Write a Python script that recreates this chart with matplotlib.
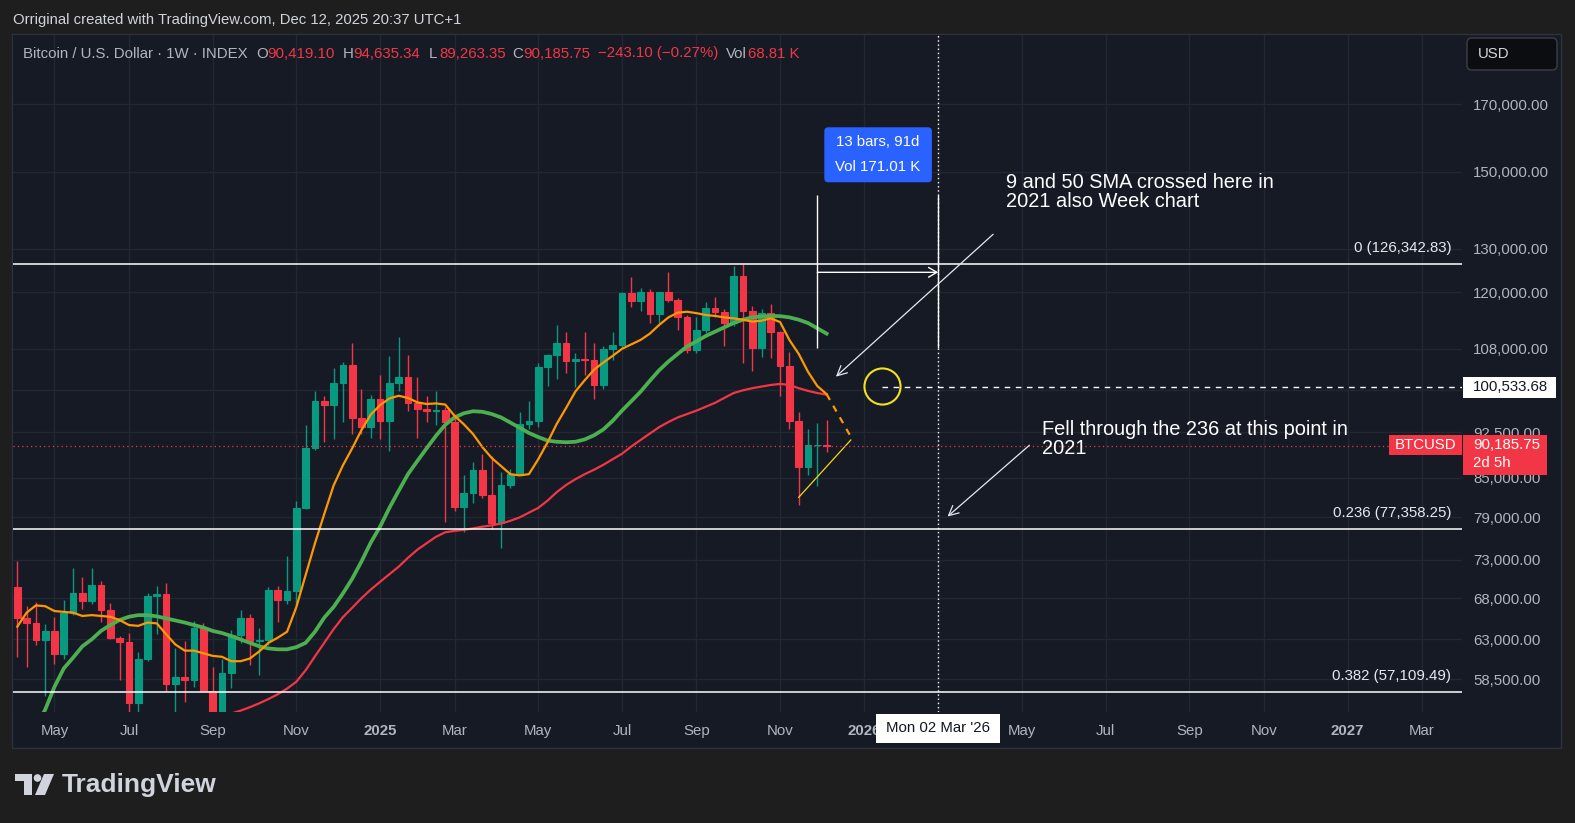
import matplotlib
matplotlib.use("Agg")
import matplotlib.pyplot as plt
import matplotlib.transforms as mtransforms
from matplotlib.patches import Rectangle, FancyBboxPatch, Polygon, Circle
from matplotlib.ticker import NullLocator

plt.rcParams['font.family'] = ['Liberation Sans', 'DejaVu Sans']

W, H = 1575, 823

# weekly BTCUSD candles, bar 0 = week of 08 Apr 2024, bar 87 = week of 08 Dec 2025
opens = [69400, 65600, 65000, 62900, 64000, 61300, 66100, 68600, 67600, 69700,
         66500, 63200, 62700, 56000, 60800, 68300, 68500, 58000, 58700, 58400,
         64300, 57300, 55100, 59200, 63500, 65500, 62800, 62900, 69100, 67800,
         68900, 80400, 89900, 98000, 97300, 101400, 104800, 95000, 93500, 98400,
         94500, 101400, 102600, 97700, 96600, 96300, 96500, 94300, 80600, 82700,
         86200, 82400, 78200, 83900, 85600, 93900, 94500, 104400, 106800, 109200,
         105500, 105900, 105800, 101000, 107900, 108700, 119800, 118000, 120100, 115200,
         120100, 118200, 114600, 107700, 111800, 116500, 115700, 113400, 123600, 115900,
         108100, 115500, 111500, 104600, 94400, 86700, 90400, 90419.10]
highs = [72800, 67000, 67500, 64800, 65700, 67800, 71900, 70700, 71900, 70200,
         67400, 63400, 63800, 61500, 68600, 69500, 70000, 62000, 62800, 65200,
         64900, 59800, 60700, 64100, 66500, 66000, 64300, 69400, 69600, 73600,
         81500, 93800, 99900, 98900, 104200, 105400, 109100, 100300, 99100, 102900,
         106600, 110300, 106800, 102600, 98900, 99900, 96900, 95100, 85400, 87500,
         88800, 88500, 86000, 86500, 96100, 98000, 105200, 107000, 112900, 111500,
         107200, 111500, 109100, 108600, 111500, 120100, 123400, 120900, 120700, 120000,
         124600, 118600, 115000, 114600, 117900, 118800, 116300, 125900, 126342.83, 117000,
         116200, 117400, 111600, 107300, 96000, 93100, 94200, 94635.34]
lows = [61000, 59900, 62400, 56700, 60200, 60700, 65900, 66700, 67300, 65100,
        63000, 58400, 53900, 54600, 60500, 63600, 57200, 49400, 56100, 57700,
        57200, 52800, 54900, 57600, 62600, 60100, 59000, 62400, 65100, 67300,
        67200, 80200, 89500, 90800, 91300, 94300, 92200, 92200, 91500, 91300,
        89400, 99800, 96300, 91500, 94300, 93700, 78400, 79900, 76900, 81200,
        81900, 77300, 74600, 83500, 85400, 93100, 93500, 100800, 102100, 103200,
        100700, 102800, 98400, 100300, 105700, 108200, 116800, 115800, 113300, 113400,
        117900, 111800, 107100, 107100, 111300, 114600, 108500, 112600, 105300, 103700,
        106400, 106200, 99000, 93100, 80800, 85400, 83800, 89263.35]
closes = [65600, 65000, 62900, 64000, 61300, 66100, 68600, 67600, 69700, 66500,
          63200, 62700, 56000, 60800, 68300, 68500, 58000, 58700, 58400, 64300,
          57300, 55100, 59200, 63500, 65500, 62800, 62900, 69100, 67800, 68900,
          80400, 89900, 98000, 97300, 101400, 104800, 95000, 93500, 98400, 94500,
          101400, 102600, 97700, 96600, 96300, 96500, 94300, 80600, 82700, 86200,
          82400, 78200, 83900, 85600, 93900, 94500, 104400, 106800, 109200, 105500,
          105900, 105800, 101000, 107900, 108700, 119800, 118000, 120100, 115200, 120100,
          118200, 114600, 107700, 111800, 116500, 115700, 113400, 123600, 115900, 108100,
          115500, 111500, 104600, 94400, 86700, 90400, 90428.85, 90185.75]

# moving averages
sma9_start = 0
sma9 = [64500, 66200, 67100, 67000, 66400, 66300, 66200, 65800, 65900, 65800,
        65700, 65300, 64700, 64600, 65000, 64900, 63600, 62400, 61700, 61700,
        61400, 61100, 61000, 60500, 60500, 60800, 61600, 62600, 63200, 63900,
        66900, 71000, 75300, 79500, 83800, 87000, 89800, 92900, 95600, 97300,
        98500, 99000, 98600, 97800, 97500, 97600, 97400, 95400, 93900, 92200,
        90000, 88200, 86900, 85600, 85400, 85600, 88000, 90800, 94000, 96800,
        99800, 101900, 103900, 105300, 106600, 108000, 108900, 109800, 111100, 112900,
        114500, 115500, 115700, 115400, 115000, 114800, 114500, 114300, 114000, 113600,
        113800, 114300, 113500, 109800, 107000, 103500, 100800, 99300]
band_start = 2
band = [53500, 55300, 57700, 59700, 60900, 62200, 63000, 64000, 64700, 65300,
        65700, 65900, 65900, 65750, 65500, 65250, 65000, 64700, 64400, 64000,
        63750, 63400, 63000, 62600, 62200, 61950, 61850, 61850, 62100, 62600,
        63900, 65600, 66900, 68600, 70500, 72800, 75400, 77650, 80400, 83000,
        85600, 87700, 89800, 91900, 93800, 95100, 95830, 96200, 96100, 95700,
        95100, 94200, 93300, 92400, 91700, 91100, 90900, 90820, 90900, 91300,
        92000, 93000, 94500, 96300, 98000, 99750, 101800, 103800, 105500, 107000,
        108500, 109500, 110600, 111500, 112400, 113300, 114000, 114500, 114700, 114800,
        114760, 114500, 114000, 113300, 112200, 111100]
sma50_start = 22
sma50 = [54600, 54900, 55200, 55550, 55950, 56400, 56900, 57500, 58240, 59500,
         61050, 62600, 64200, 65650, 66800, 68000, 69100, 70100, 71100, 72100,
         73300, 74400, 75300, 76200, 76850, 77050, 77200, 77400, 77650, 77850,
         78100, 78500, 79000, 79700, 80400, 81500, 82800, 83900, 84800, 85600,
         86300, 87100, 88000, 88900, 90100, 91200, 92300, 93400, 94300, 95100,
         95700, 96300, 97000, 97700, 98600, 99500, 100000, 100400, 100700, 101000,
         101200, 101000, 100400, 99900, 99500, 99200]

month_ticks = [4, 12, 21, 30, 39, 47, 56, 65, 73, 82, 91, 99, 108, 117, 126, 134, 143, 151]
# the Mar '26 label sits under the crosshair time tag, so it is not shown
month_labels = ['May', 'Jul', 'Sep', 'Nov', '2025', 'Mar', 'May', 'Jul', 'Sep', 'Nov',
                '2026', '', 'May', 'Jul', 'Sep', 'Nov', '2027', 'Mar']
price_ticks = [170000, 150000, 130000, 120000, 108000, 100000, 92500, 85000,
               79000, 73000, 68000, 63000, 58500]
hidden_price_ticks = [100000]   # covered by the ray price tag

fib_levels = [126342.83, 77358.25, 57109.49]
fib_labels = ['0 (126,342.83)', '0.236 (77,358.25)', '0.382 (57,109.49)']
last_price = 90185.75
ray_price = 100533.68

# drawings (bar index, price)
measure_bars = [86, 99]
measure_range = [108240, 143680]
measure_arrow_price = 124480
circle_pt = (93, 100800)
sma_proj_x, sma_proj_y = [87, 89.8], [99300, 91200]
trend_x, trend_y = [84, 89.6], [82000, 91200]
note1_xy, note1_from, note1_to = (106.3, 144480), (104.9, 133580), (88.0, 102570)
note2_xy, note2_from, note2_to = (110.2, 91370), (108.8, 90320), (100.0, 79130)

BG_OUT = '#1e1e1e'
BG = '#161a25'
GRID = '#232734'
UP, DOWN = '#089981', '#f23645'
TXT = '#b2b5be'
FS = 10.8

fig = plt.figure(figsize=(W / 100, H / 100), dpi=100, facecolor=BG_OUT)
px = mtransforms.Affine2D().scale(1 / W, -1 / H).translate(0, 1) + fig.transFigure


def anchored(x, y, trans):
    # pixel offsets (y down) around a point given in `trans` coordinates
    return mtransforms.Affine2D().scale(1, -1) + mtransforms.ScaledTranslation(x, y, trans)


fig.add_artist(Rectangle((12, 34), 1549, 714, transform=px, fc=BG, ec='#2e323d', lw=1, zorder=-5))

ax = fig.add_axes([13 / W, 1 - 712 / H, 1449 / W, 677 / H])
ax.set_facecolor(BG)
ax.set_yscale('log')
ax.set_xlim(-0.46, 155.3)
ax.set_ylim(55060, 193330)
for s in ax.spines.values():
    s.set_visible(False)

ax.yaxis.set_minor_locator(NullLocator())
ax.set_yticks(price_ticks)
ax.set_yticklabels(['' if v in hidden_price_ticks else f'{v:,.2f}' for v in price_ticks])
ax.yaxis.tick_right()
ax.tick_params(axis='y', length=0, pad=8, labelsize=FS, labelcolor=TXT)
ax.set_xticks(month_ticks)
ax.set_xticklabels(month_labels)
ax.tick_params(axis='x', length=0, pad=8.5, labelsize=FS, labelcolor=TXT)
for t in ax.get_xticklabels():
    if t.get_text().isdigit():
        t.set_fontweight('bold')
ax.grid(True, color=GRID, lw=1)
ax.set_axisbelow(True)

# candles
x = list(range(len(opens)))
cols = [UP if c >= o else DOWN for o, c in zip(opens, closes)]
ax.vlines(x, lows, highs, colors=cols, lw=1, zorder=2)
bottoms = [min(o, c) for o, c in zip(opens, closes)]
heights = [abs(c - o) for o, c in zip(opens, closes)]
ax.bar(x, heights, bottom=bottoms, width=0.72, color=cols, edgecolor=cols, lw=0.8, zorder=3)

# moving averages
ax.plot(range(sma50_start, sma50_start + len(sma50)), sma50, color='#f23645', lw=1.6, zorder=4)
ax.plot(range(band_start, band_start + len(band)), band, color='#4caf50', lw=2.7, zorder=4)
ax.plot(range(sma9_start, sma9_start + len(sma9)), sma9, color='#ff9800', lw=1.6, zorder=5)
ax.plot(sma_proj_x, sma_proj_y, color='#ff9800', lw=1.6, ls=(0, (3, 3)), zorder=5)
ax.plot(trend_x, trend_y, color='#f5d90a', lw=0.9, zorder=5)

# fib levels
blend = mtransforms.blended_transform_factory(ax.transAxes, ax.transData)
for lvl, lab in zip(fib_levels, fib_labels):
    ax.axhline(lvl, color='white', lw=1.1, zorder=6)
    ax.annotate(lab, xy=(1.0, lvl), xycoords=blend, xytext=(-7.6, 11.5), textcoords='offset points',
                ha='right', va='center', color='#e6e8ee', fontsize=FS, zorder=7)

# last price line + tags
ax.axhline(last_price, color=DOWN, lw=0.9, ls=(0, (1, 2.5)), zorder=6)
tag = anchored(1.0, last_price, blend)
fig.add_artist(Rectangle((-73, -11), 73, 20, transform=tag, fc=DOWN, ec='none', zorder=10))
fig.text(-36.5, -1, 'BTCUSD', transform=tag, color='white', fontsize=FS, ha='center', va='center', zorder=11)
fig.add_artist(Rectangle((0.7, -11), 84, 40, transform=tag, fc=DOWN, ec='none', zorder=10))
fig.text(11, -1.5, f'{last_price:,.2f}', transform=tag, color='white', fontsize=FS, ha='left', va='center', zorder=11)
fig.text(11, 17, '2d 5h', transform=tag, color='white', fontsize=FS, ha='left', va='center', zorder=11)

# measure tool
ax.vlines(measure_bars, measure_range[0], measure_range[1], color='white', lw=1, zorder=8)
ax.annotate('', xy=(measure_bars[1], measure_arrow_price), xytext=(measure_bars[0], measure_arrow_price),
            arrowprops=dict(arrowstyle='->,head_length=0.6,head_width=0.35', color='white', lw=1,
                            shrinkA=0, shrinkB=0), zorder=8)
mbox = anchored(measure_bars[0], measure_range[1], ax.transData)
fig.add_artist(FancyBboxPatch((7, -67.7), 107.6, 55, boxstyle='round,pad=0,rounding_size=4',
                              transform=mbox, fc='#2962ff', ec='none', zorder=10))
fig.text(60.8, -52.7, '13 bars, 91d', transform=mbox, color='white', fontsize=FS, ha='center', va='center', zorder=11)
fig.text(60.8, -28.3, 'Vol 171.01 K', transform=mbox, color='white', fontsize=FS, ha='center', va='center', zorder=11)

# crosshair and ray
ax.axvline(measure_bars[1], color='white', lw=1, ls=(0, (1, 2)), zorder=6)
ax.hlines(ray_price, circle_pt[0], 155.3, color='white', lw=1, ls=(0, (4, 4)), zorder=6)
ax.plot([circle_pt[0]], [circle_pt[1]], marker='o', ms=26, mfc='none', mec='#f5e11a', mew=1.5, zorder=8)
rtag = anchored(1.0, ray_price, blend)
fig.add_artist(Rectangle((0.7, -10.5), 93, 21, transform=rtag, fc='white', ec='none', zorder=10))
fig.text(11, 0, f'{ray_price:,.2f}', transform=rtag, color='#131722', fontsize=FS, ha='left', va='center', zorder=11)
xblend = mtransforms.blended_transform_factory(ax.transData, ax.transAxes)
ttag = anchored(measure_bars[1], 0, xblend)
fig.add_artist(Rectangle((-62, 1.5), 124, 29, transform=ttag, fc='white', ec='none', zorder=10))
fig.text(0, 16, "Mon 02 Mar '26", transform=ttag, color='#131722', fontsize=FS, ha='center', va='center', zorder=11)

# notes
arrow_kw = dict(arrowstyle='->,head_length=0.7,head_width=0.35', color='#e6e8ee', lw=0.9,
                shrinkA=0, shrinkB=0)
ax.annotate('', xy=note1_to, xytext=note1_from, arrowprops=arrow_kw, zorder=8)
ax.annotate('', xy=note2_to, xytext=note2_from, arrowprops=arrow_kw, zorder=8)
ax.text(*note1_xy, '9 and 50 SMA crossed here in\n2021 also Week chart', color='white',
        fontsize=14.4, ha='left', va='center', linespacing=1.0, zorder=9)
ax.text(*note2_xy, 'Fell through the 236 at this point in\n2021', color='white',
        fontsize=14.4, ha='left', va='center', linespacing=1.0, zorder=9)

# header texts
fig.text(13, 20, 'Orriginal created with TradingView.com, Dec 12, 2025 20:37 UTC+1', transform=px,
         color='#d1d4dc', fontsize=10.7, va='center', ha='left')
legend = [(23, 'Bitcoin / U.S. Dollar · 1W · INDEX', TXT), (256, 'O', TXT), (267, '90,419.10', DOWN),
          (342.5, 'H', TXT), (353.6, '94,635.34', DOWN), (429, 'L', TXT), (439, '89,263.35', DOWN),
          (512, 'C', TXT), (523, '90,185.75', DOWN), (598, '\u2212243.10 (\u22120.27%)', DOWN),
          (726, 'Vol', TXT), (748, '68.81 K', DOWN)]
for lx, s, c in legend:
    fig.text(lx, 53.5, s, transform=px, color=c, fontsize=FS, va='center', ha='left')

fig.add_artist(FancyBboxPatch((1467, 38), 90, 32, boxstyle='round,pad=0,rounding_size=5', transform=px,
                              fc='#0c0d10', ec='#3a3e48', lw=1, zorder=5))
fig.text(1478, 54.5, 'USD', transform=px, color='#d1d4dc', fontsize=FS, va='center', ha='left', zorder=6)

# TradingView logo
fig.add_artist(Polygon([(15, 774), (32, 774), (32, 795), (24, 795), (24, 781), (15, 781)],
                       closed=True, transform=px, fc='#d1d4dc', ec='none'))
fig.add_artist(Circle((37.5, 778), 3.8, transform=px, fc='#d1d4dc', ec='none'))
fig.add_artist(Polygon([(44, 774), (54, 774), (45, 795), (35, 795)], closed=True, transform=px,
                       fc='#d1d4dc', ec='none'))
fig.text(62, 785, 'TradingView', transform=px, color='#d1d4dc', fontsize=19, fontweight='bold',
         va='center', ha='left')

fig.savefig('out.png', dpi=100, facecolor=BG_OUT)
